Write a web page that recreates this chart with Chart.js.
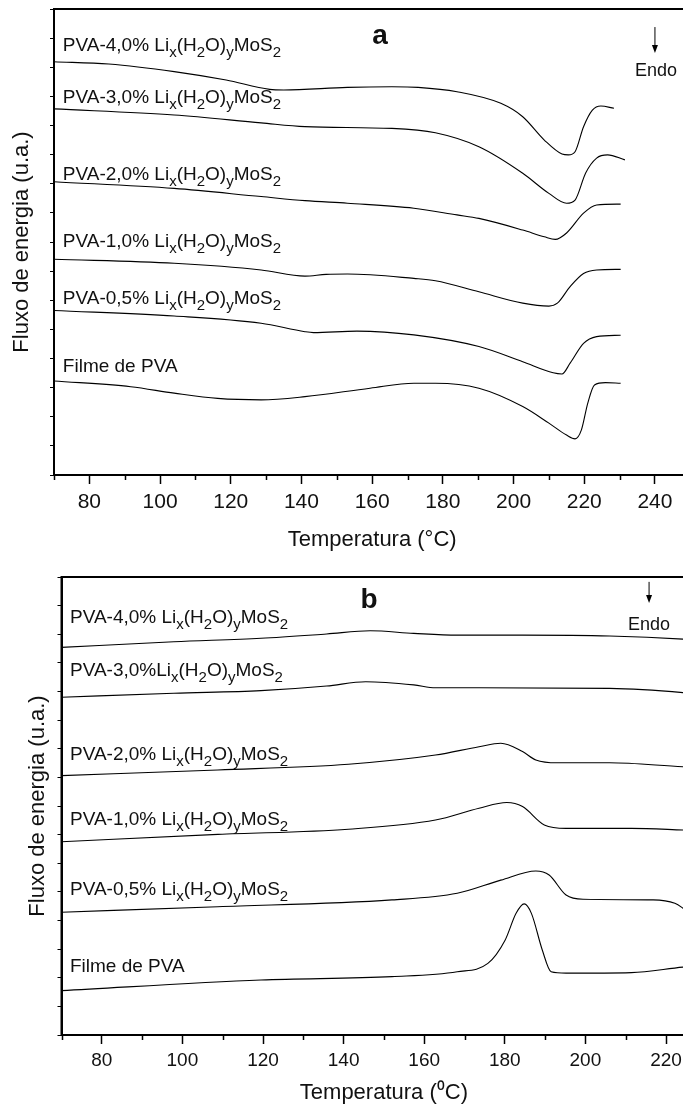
<!DOCTYPE html>
<html lang="pt-BR">
<head>
<meta charset="UTF-8">
<title>DSC PVA / LixMoS2</title>
<script src="https://cdn.jsdelivr.net/npm/chart.js"></script>
<style>
    body { margin: 0; overflow: hidden; background: #fff; font-family: "Liberation Sans", Arial, sans-serif; color: #111; }
    .panel { position: absolute; left: 0; }
    #pa { top: 0; width: 720px; height: 570px; }
    #pb { top: 570px; width: 740px; height: 536px; }
    .lbl { position: absolute; font-size: 19px; line-height: 19px; white-space: nowrap; transform: translateY(-50%); }
    .lbl sub { font-size: 15px; line-height: 0; vertical-align: -6px; }
    .mark { position: absolute; white-space: nowrap; transform: translate(-50%, -50%); }
    .letter { font-size: 28px; font-weight: bold; }
    .endo { font-size: 18px; }
</style>
</head>
<body>
<div class="panel" id="pa"><canvas width="720" height="570"></canvas></div>
<div class="panel" id="pb"><canvas width="740" height="536"></canvas></div>

<script>
    // ---- eixos ----
    const ticksA = [80, 100, 120, 140, 160, 180, 200, 220, 240];
    const minorA = [70, 90, 110, 130, 150, 170, 190, 210, 230, 250];
    const ticksB = [80, 100, 120, 140, 160, 180, 200, 220];
    const minorB = [70, 90, 110, 130, 150, 170, 190, 210, 230];
    const yTicks = [0, 1, 2, 3, 4, 5, 6, 7, 8, 9, 10, 11, 12, 13, 14, 15, 16];

    // ---- painel a : temperatura (°C) e fluxo (u.a., curvas deslocadas) ----
    const tA40 = [70, 85.5, 104, 118.7, 131, 135, 153, 165.6, 173, 184, 196.4, 202.6, 208.7, 213.7, 215.5, 217.4, 219.8, 222.3, 224.7, 228.4];
    const fA40 = [14.19, 14.11, 13.85, 13.56, 13.24, 13.22, 13.31, 13.33, 13.31, 13.16, 12.76, 12.30, 11.50, 11.02, 10.99, 11.10, 11.96, 12.53, 12.67, 12.59];
    const tA30 = [70, 104, 128.6, 141, 165.6, 177.9, 190.2, 202.6, 210, 215, 217.4, 220.4, 223.5, 226.6, 231.5];
    const fA30 = [12.57, 12.36, 12.09, 11.96, 11.90, 11.75, 11.27, 10.36, 9.67, 9.33, 9.44, 10.37, 10.88, 10.99, 10.82];
    const tA20 = [70, 104, 128.6, 141, 153, 171.8, 184, 190.2, 202.6, 208.7, 211.8, 215, 219.8, 223.5, 230.3];
    const fA20 = [10.07, 9.84, 9.56, 9.42, 9.33, 9.16, 8.93, 8.81, 8.41, 8.18, 8.09, 8.31, 8.99, 9.27, 9.30];
    const tA10 = [70, 104, 128.6, 141, 147, 153, 171.8, 177.9, 190.2, 202.6, 210, 212.4, 216, 219.8, 223.5, 230.3];
    const fA10 = [7.41, 7.27, 7.04, 6.83, 6.89, 6.90, 6.75, 6.67, 6.29, 5.90, 5.80, 5.90, 6.47, 6.92, 7.04, 7.06];
    const tA05 = [70, 104, 128.6, 141, 143.4, 155.7, 171.8, 190.2, 202.6, 211.2, 213.7, 216, 219.8, 223.5, 230.3];
    const fA05 = [5.65, 5.46, 5.21, 4.92, 4.89, 4.94, 4.81, 4.41, 3.89, 3.51, 3.47, 3.84, 4.52, 4.75, 4.80];
    const tAPVA = [70, 91.7, 104, 116.3, 128.6, 141, 159.4, 171.8, 177.9, 190.2, 202.6, 210, 215, 217.4, 219.2, 221, 222.9, 226, 230.3];
    const fAPVA = [3.23, 3.03, 2.81, 2.63, 2.58, 2.69, 2.98, 3.15, 3.15, 2.98, 2.35, 1.78, 1.37, 1.24, 1.55, 2.47, 3.09, 3.17, 3.15];

    // ---- painel b ----
    const tB40 = [70, 97.9, 119.5, 135.8, 146.6, 157.4, 168.2, 184.4, 206, 224.2, 226];
    const fB40 = [13.54, 13.74, 13.86, 14.01, 14.12, 14.03, 13.97, 13.97, 13.94, 13.83, 13.81];
    const tB30 = [70, 97.9, 119.5, 135.8, 145.5, 157.4, 162.8, 173.6, 206, 224.2, 226];
    const fB30 = [11.80, 11.94, 12.03, 12.19, 12.34, 12.23, 12.13, 12.13, 12.11, 11.96, 11.93];
    const tB20 = [70, 108.8, 141.2, 162.8, 173.6, 179, 184.4, 187.7, 193, 206, 224.2, 226];
    const fB20 = [9.06, 9.26, 9.46, 9.78, 10.07, 10.19, 9.90, 9.61, 9.51, 9.51, 9.37, 9.36];
    const tB10 = [70, 108.8, 141.2, 162.8, 173.6, 180.5, 184.4, 189.8, 195.2, 211.4, 224.2, 226];
    const fB10 = [6.75, 7.01, 7.19, 7.51, 7.92, 8.12, 7.98, 7.34, 7.22, 7.22, 7.16, 7.15];
    const tB05 = [70, 108.8, 152, 168.2, 179, 187.7, 191, 195.2, 199.5, 216.8, 222.2, 224.2, 226];
    const fB05 = [4.29, 4.48, 4.72, 4.95, 5.41, 5.73, 5.59, 4.89, 4.74, 4.72, 4.60, 4.43, 4.23];
    const tBPVA = [70, 119.5, 152, 168.2, 175.8, 180.1, 182.8, 184.8, 186.6, 189.3, 191.5, 195.2, 211.4, 224.2, 226];
    const fBPVA = [1.55, 1.92, 2.04, 2.21, 2.50, 3.32, 4.25, 4.58, 4.25, 2.97, 2.21, 2.16, 2.18, 2.37, 2.39];

    // ---- rotulos das curvas ----
    const formula = 'Li<sub>x</sub>(H<sub>2</sub>O)<sub>y</sub>MoS<sub>2</sub>';
    const namesA = ['PVA-4,0% ' + formula, 'PVA-3,0% ' + formula, 'PVA-2,0% ' + formula, 'PVA-1,0% ' + formula, 'PVA-0,5% ' + formula, 'Filme de PVA'];
    const namesB = ['PVA-4,0% ' + formula, 'PVA-3,0%' + formula, 'PVA-2,0% ' + formula, 'PVA-1,0% ' + formula, 'PVA-0,5% ' + formula, 'Filme de PVA'];
    const nameYA = [14.81, 13.03, 10.36, 8.06, 6.12, 3.76];
    const nameYB = [14.63, 12.77, 9.84, 7.58, 5.15, 2.45];

    Chart.defaults.font.family = '"Liberation Sans", Arial, sans-serif';
    Chart.defaults.color = '#111';

    function makePanel(o) {
        const wrap = document.getElementById(o.id);
        const cv = wrap.querySelector('canvas');

        const extras = {
            id: 'extras',
            afterDraw(chart) {
                const { ctx, chartArea: a, scales } = chart;
                ctx.save();
                ctx.strokeStyle = '#000';
                ctx.lineWidth = 2;
                ctx.strokeRect(a.left, a.top, a.right - a.left, a.bottom - a.top);
                // ticks menores
                ctx.lineWidth = 1.5;
                ctx.beginPath();
                o.minor.forEach(v => {
                    const x = Math.round(scales.x.getPixelForValue(v)) + 0.5;
                    ctx.moveTo(x, a.bottom);
                    ctx.lineTo(x, a.bottom + 5);
                });
                ctx.stroke();
                // seta "Endo"
                const ax = scales.x.getPixelForValue(o.arrow[0]);
                const ay1 = scales.y.getPixelForValue(o.arrow[1]);
                const ay2 = scales.y.getPixelForValue(o.arrow[2]);
                ctx.lineWidth = 1;
                ctx.beginPath();
                ctx.moveTo(ax, ay1);
                ctx.lineTo(ax, ay2 - 6);
                ctx.stroke();
                ctx.fillStyle = '#000';
                ctx.beginPath();
                ctx.moveTo(ax - 3, ay2 - 8);
                ctx.lineTo(ax + 3, ay2 - 8);
                ctx.lineTo(ax, ay2);
                ctx.closePath();
                ctx.fill();
                ctx.restore();
            }
        };

        const chart = new Chart(cv, {
            type: 'line',
            data: {
                datasets: o.series.map(s => ({
                    data: s[0].map((t, i) => ({ x: t, y: s[1][i] })),
                    borderColor: '#000',
                    borderWidth: 1.1,
                    pointRadius: 0,
                    cubicInterpolationMode: 'monotone',
                    fill: false
                }))
            },
            options: {
                responsive: false,
                animation: false,
                events: [],
                layout: { padding: { top: o.padTop, right: o.padRight, left: 0, bottom: 0 } },
                plugins: { legend: { display: false }, tooltip: { enabled: false } },
                scales: {
                    x: {
                        type: 'linear', min: 70, max: o.xmax,
                        afterBuildTicks: s => { s.ticks = o.ticks.map(v => ({ value: v })); },
                        afterFit: s => { s.height = o.xh; },
                        grid: { display: true, drawOnChartArea: false, drawTicks: true, tickLength: 9, tickWidth: 1.5, tickColor: '#000' },
                        border: { display: true, color: '#000', width: 2 },
                        ticks: { autoSkip: false, maxRotation: 0, padding: o.tickPad, color: '#111', font: { size: o.tickFont } },
                        title: { display: true, text: o.xTitle, color: '#111', font: { size: 22 }, padding: { top: 0, bottom: o.xTitlePad } }
                    },
                    y: {
                        type: 'linear', min: 0, max: 16,
                        afterBuildTicks: s => { s.ticks = yTicks.map(v => ({ value: v })); },
                        afterFit: s => { s.width = o.yw; },
                        grid: { display: true, drawOnChartArea: false, drawTicks: true, tickLength: 4, tickWidth: 1, tickColor: '#000' },
                        border: { display: true, color: '#000', width: 2 },
                        ticks: { display: false },
                        title: { display: true, text: 'Fluxo de energia (u.a.)', color: '#111', font: { size: 22 }, padding: { top: o.yTitlePad, bottom: 0 } }
                    }
                }
            },
            plugins: [extras]
        });

        const sx = chart.scales.x, sy = chart.scales.y;
        const place = (cls, html, x, y) => {
            const d = document.createElement('div');
            d.className = cls;
            d.innerHTML = html;
            d.style.left = sx.getPixelForValue(x) + 'px';
            d.style.top = sy.getPixelForValue(y) + 'px';
            wrap.appendChild(d);
        };
        o.names.forEach((n, i) => place('lbl', n, o.nameX, o.nameY[i]));
        place('mark letter', o.letter[0], o.letter[1], o.letter[2]);
        place('mark endo', 'Endo', o.endo[0], o.endo[1]);
        return chart;
    }

    makePanel({
        id: 'pa', xmax: 250, padTop: 9, padRight: 29.7, xh: 95, yw: 54,
        ticks: ticksA, minor: minorA, tickPad: 6, tickFont: 21,
        xTitle: 'Temperatura (°C)', xTitlePad: 17, yTitlePad: 9,
        series: [[tA40, fA40], [tA30, fA30], [tA20, fA20], [tA10, fA10], [tA05, fA05], [tAPVA, fAPVA]],
        names: namesA, nameX: 72.5, nameY: nameYA,
        letter: ['a', 162.2, 15.11], endo: [240.3, 13.9], arrow: [240, 15.38, 14.49]
    });

    makePanel({
        id: 'pb', xmax: 230, padTop: 7, padRight: 33.7, xh: 71, yw: 61.5,
        ticks: ticksB, minor: minorB, tickPad: 5, tickFont: 19,
        xTitle: 'Temperatura (\u2070C)', xTitlePad: 0, yTitlePad: 25,
        series: [[tB40, fB40], [tB30, fB30], [tB20, fB20], [tB10, fB10], [tB05, fB05], [tBPVA, fBPVA]],
        names: namesB, nameX: 72.1, nameY: nameYB,
        letter: ['b', 146.3, 15.23], endo: [215.8, 14.36], arrow: [215.8, 15.83, 15.09]
    });
</script>
</body>
</html>
